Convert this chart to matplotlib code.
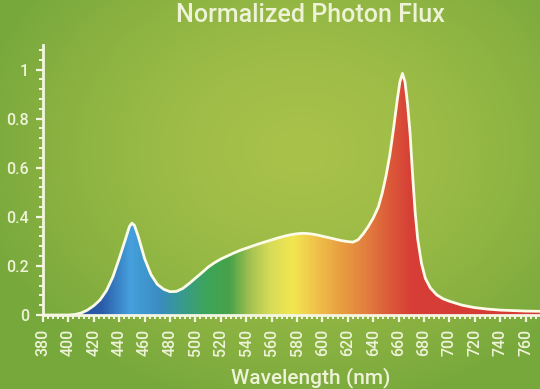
import matplotlib
matplotlib.use("Agg")
import matplotlib.pyplot as plt
import numpy as np
from matplotlib.colors import LinearSegmentedColormap
from matplotlib.ticker import MultipleLocator

plt.rcParams['font.family'] = ['Roboto', 'DejaVu Sans']

# spectrum (nm, normalized flux)
wavelength = [380, 390, 400, 405, 410, 415, 420, 425, 430, 435, 440, 445, 448, 450,
              452, 455, 460, 465, 470, 475, 480, 485, 490, 495, 500, 505, 510, 515,
              520, 525, 530, 535, 540, 545, 550, 555, 560, 565, 570, 575, 580, 585,
              590, 595, 600, 605, 610, 615, 620, 624, 628, 632, 636, 640, 644, 647,
              650, 653, 656, 659, 661, 663, 665, 667, 669, 671, 673, 675, 678, 681,
              685, 690, 695, 700, 710, 720, 730, 740, 750, 760, 772]
flux = [0, 0, 0, 0.002, 0.008, 0.02, 0.038, 0.062, 0.10, 0.155, 0.23, 0.31, 0.36, 0.374,
        0.365, 0.32, 0.23, 0.165, 0.125, 0.105, 0.095, 0.096, 0.108, 0.128, 0.15, 0.172,
        0.195, 0.213, 0.228, 0.24, 0.252, 0.263, 0.272, 0.281, 0.29, 0.298, 0.306, 0.314,
        0.321, 0.327, 0.331, 0.333, 0.331, 0.327, 0.321, 0.315, 0.309, 0.303, 0.299,
        0.297, 0.306, 0.33, 0.36, 0.395, 0.44, 0.495, 0.565, 0.65, 0.76, 0.88, 0.95,
        0.984, 0.95, 0.86, 0.74, 0.57, 0.42, 0.31, 0.21, 0.15, 0.11, 0.082, 0.066,
        0.056, 0.04, 0.03, 0.024, 0.02, 0.018, 0.016, 0.015]

x_ticks = list(range(380, 761, 20))
y_ticks = [0, 0.2, 0.4, 0.6, 0.8, 1]

txt = '#eef3d8'

# colour of the fill along the spectrum
spec_nm = [380, 425, 448, 472, 488, 509, 527, 543, 559, 577, 596, 614, 635, 653, 671, 772]
spec_col = ['#24509c', '#2a5aa8', '#45a0dc', '#3a8cc0', '#379a90', '#3da558', '#48a24a',
            '#a5c251', '#d8dc58', '#f2e650', '#f0c04a', '#e8a040', '#e27e3e', '#dc5a3a',
            '#d63e36', '#d43a36']

fig = plt.figure(figsize=(5.4, 3.89), dpi=100)

# green background, lighter in the middle
bg = fig.add_axes([0, 0, 1, 1], zorder=-1)
yy, xx = np.mgrid[0:389, 0:540]
r = np.sqrt(((xx - 300) / 330.0) ** 2 + ((yy - 150) / 260.0) ** 2)
r = np.clip(r, 0, 1)
c_in = np.array([0.660, 0.760, 0.290])
c_out = np.array([0.470, 0.660, 0.235])
img = c_in[None, None, :] * (1 - r[..., None] ** 1.5) + c_out[None, None, :] * r[..., None] ** 1.5
bg.imshow(img, aspect='auto', extent=[0, 1, 0, 1])
bg.axis('off')

ax = fig.add_axes([43 / 540, 74 / 389, 1 - 43 / 540, 270 / 389])
ax.set_facecolor('none')

# gradient fill clipped to the curve
cmap = LinearSegmentedColormap.from_list(
    'spec', [((n - 380) / (772 - 380), c) for n, c in zip(spec_nm, spec_col)])
poly = ax.fill_between(wavelength, flux, 0, color='none', lw=0)
grad = np.linspace(0, 1, 600)[None, :]
im = ax.imshow(grad, cmap=cmap, aspect='auto', extent=[380, 772, 0, 1.0], zorder=1)
im.set_clip_path(poly.get_paths()[0], transform=ax.transData)
ax.plot(wavelength, flux, color='#fbfbe8', lw=2, zorder=3, solid_capstyle='round')
ax.set_xlim(380, 771.3)
ax.set_ylim(0, 1.1)

for s in ['top', 'right']:
    ax.spines[s].set_visible(False)
for s in ['left', 'bottom']:
    ax.spines[s].set_color('#f4f6e2')
    ax.spines[s].set_linewidth(2)
    ax.spines[s].set_zorder(4)

ax.set_xticks(x_ticks)
ax.set_xticklabels([str(v) for v in x_ticks], rotation=90)
ax.set_yticks(y_ticks)
ax.set_yticklabels(['{:g}'.format(v) for v in y_ticks])
ax.xaxis.set_minor_locator(MultipleLocator(4))
ax.yaxis.set_minor_locator(MultipleLocator(0.04))
ax.tick_params(which='major', direction='out', length=5, width=1.6, color='#f4f6e2',
               labelcolor=txt, labelsize=11.5)
ax.tick_params(which='minor', direction='out', length=3, width=1.4, color='#f4f6e2')
ax.tick_params(axis='x', pad=5)
ax.tick_params(axis='y', pad=5)
for lab in ax.get_xticklabels() + ax.get_yticklabels():
    lab.set_fontweight('medium')

fig.text(310 / 540, 1 - 15 / 389, 'Normalized Photon Flux', color=txt, fontsize=18,
         fontweight='medium', ha='center', va='center')
fig.text(311 / 540, 1 - 378 / 389, 'Wavelength (nm)', color=txt, fontsize=15,
         fontweight='medium', ha='center', va='center')

fig.savefig('out.png', dpi=100)
